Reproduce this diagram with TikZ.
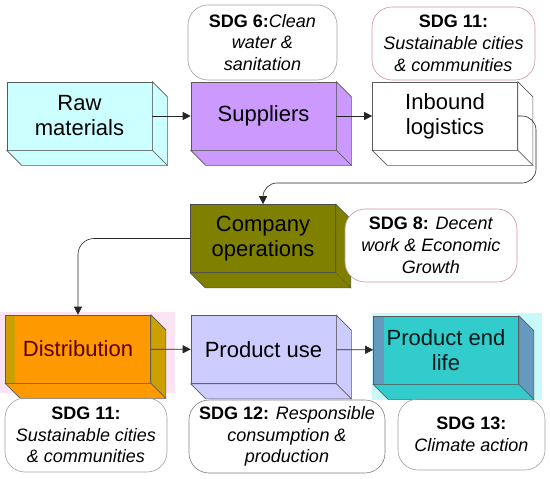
\documentclass[tikz,border=0pt]{standalone}
\usepackage{fontspec}
\setmainfont{Liberation Sans}
\usepackage{tikz}
\definecolor{scRaw}     {RGB}{204, 255, 255}
\definecolor{scSupp}    {RGB}{204, 153, 255}
\definecolor{scOlive}   {RGB}{128, 128,   0}
\definecolor{scOrange}  {RGB}{255, 153,   0}
\definecolor{scGold}    {RGB}{204, 160,   0}
\definecolor{scLav}     {RGB}{204, 204, 255}
\definecolor{scTeal}    {RGB}{ 51, 204, 204}
\definecolor{scSteel}   {RGB}{102, 153, 190}
\definecolor{scEdge}    {RGB}{ 90,  90,  90}
\definecolor{scPinkLine}{RGB}{200, 150, 165}
\definecolor{scGrayLine}{RGB}{160, 160, 160}
\definecolor{scPinkGlow}{RGB}{252, 228, 244}
\definecolor{scCyanGlow}{RGB}{200, 250, 250}
\usetikzlibrary{
  arrows.meta,
  calc,
}

\begin{document}
\begin{tikzpicture}[
  x=1pt, y=-1pt,
  stage/.style={draw=scEdge, line width=0.6pt, minimum width=145pt,
    minimum height=68pt, inner sep=0pt, align=center,
    font=\fontsize{22}{25}\selectfont},
  face/.style={draw=scEdge, line width=0.6pt},
  sdg/.style={draw=scGrayLine, line width=0.6pt, rounded corners=20pt,
    inner sep=0pt, align=center, font=\fontsize{18}{21.7}\selectfont},
  flow/.style={draw=black!85, line width=0.6pt,
    -{Triangle[length=8pt,width=8pt]}},
]
  \useasboundingbox (0,0) rectangle (550,479);

  % soft glows behind the last row
  \fill[scPinkGlow] (0,312) rectangle (175,393);
  \fill[scCyanGlow] (372,313) rectangle (542,400);

  % Supply chain stages (front faces)
  \node[stage, fill=scRaw] (raw) at (79.5,116) {Raw\\materials};
  \node[stage, fill=scSupp] (supp) at (263.5,116) {Suppliers};
  \node[stage, fill=white] (inb) at (445,116) {Inbound\\logistics};
  \node[stage, fill=scOlive, draw=black!70] (ops) at (263,238.5) {Company\\operations};
  \node[stage, fill=scOrange, text=black!50!red!70!black,
    path picture={\fill[scGold] (path picture bounding box.north west)
      rectangle ([xshift=9pt]path picture bounding box.south west);}]
    (dist) at (78,349) {Distribution};
  \node[stage, fill=scLav] (use) at (263.5,349.5) {Product use};
  \node[stage, fill=scTeal, text=black!80!teal,
    path picture={\fill[scSteel] (path picture bounding box.north west)
      rectangle ([xshift=10pt]path picture bounding box.south west);}]
    (endl) at (446,350) {Product end\\life};

  % depth of the boxes: right face and bottom face
  \foreach \b/\cr/\cb in {raw/scRaw/scRaw, supp/scSupp/scSupp,
      inb/white/white, ops/scOlive/scOlive, dist/scGold/scOrange,
      use/scLav/scLav, endl/scSteel/scTeal} {
    \filldraw[face, fill=\cr] (\b.north east) -- ++(15,15)
      -- ($(\b.south east)+(15,15)$) -- (\b.south east) -- cycle;
    \filldraw[face, fill=\cb] (\b.south west) -- ++(15,15)
      -- ($(\b.south east)+(15,15)$) -- (\b.south east) -- cycle;
  }

  % SDG bubbles
  \node[sdg, minimum width=149pt, minimum height=75pt] (sdgSix) at (262.5,42.5)
    {\textbf{SDG 6:}\textit{Clean}\\\textit{water \&}\\\textit{sanitation}};
  \node[sdg, draw=scPinkLine, minimum width=163pt, minimum height=73pt] (sdgElevenA) at (453.5,43.5)
    {\textbf{SDG 11:}\\\textit{Sustainable cities}\\\textit{\& communities}};
  \node[sdg, draw=scPinkLine, fill=white, minimum width=172pt, minimum height=73pt] (sdgEight) at (431,245.5)
    {\textbf{SDG 8:} \textit{Decent}\\\textit{work \& Economic}\\\textit{Growth}};
  \node[sdg, minimum width=162pt, minimum height=74pt] (sdgElevenB) at (86,435)
    {\textbf{SDG 11:}\\\textit{Sustainable cities}\\\textit{\& communities}};
  \node[sdg, draw=gray, minimum width=196pt, minimum height=73pt] (sdgTwelve) at (287,436.5)
    {\textbf{SDG 12:} \textit{Responsible}\\\textit{consumption \&}\\\textit{production}};
  \node[sdg, minimum width=147pt, minimum height=71pt] (sdgThirteen) at (471.5,434.5)
    {\textbf{SDG 13:}\\\textit{Climate action}};

  % Flow between stages
  \coordinate (bendA) at (536,183);
  \coordinate (bendB) at (78,240);
  \draw[flow] (raw) -- (supp);
  \draw[flow] (supp) -- (inb);
  \draw[flow, rounded corners=14pt] (inb.east) -| (bendA) -| (ops.north);
  \draw[flow, rounded corners=16pt] (ops.west) -| (dist.north);
  \draw[flow] (dist) -- (use);
  \draw[flow] (use) -- (endl);

\end{tikzpicture}
\end{document}
